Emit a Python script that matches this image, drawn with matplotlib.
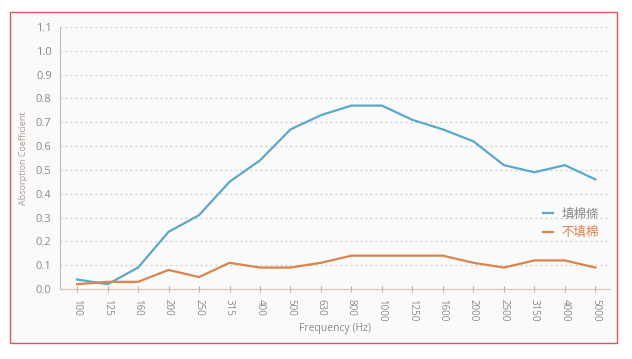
import matplotlib
matplotlib.use("Agg")
import matplotlib.pyplot as plt
from matplotlib.patches import Rectangle

freqs = ["100", "125", "160", "200", "250", "315", "400", "500", "630", "800",
         "1000", "1250", "1600", "2000", "2500", "3150", "4000", "5000"]
filled = [0.04, 0.02, 0.09, 0.24, 0.31, 0.45, 0.54, 0.67, 0.73, 0.77,
          0.77, 0.71, 0.67, 0.62, 0.52, 0.49, 0.52, 0.46]
unfilled = [0.02, 0.03, 0.03, 0.08, 0.05, 0.11, 0.09, 0.09, 0.11, 0.14,
            0.14, 0.14, 0.14, 0.11, 0.09, 0.12, 0.12, 0.09]
labels = ["填棉條", "不填棉"]
yticks = [i / 10 for i in range(12)]

plt.rcParams['font.family'] = ['Open Sans', 'Noto Sans CJK TC', 'DejaVu Sans']

blue = "#5ba8c9"
orange = "#d9834d"
grey = "#8a8a8a"

fig = plt.figure(figsize=(6.32, 3.59), dpi=100)
fig.patch.set_facecolor("white")
fig.add_artist(Rectangle((10 / 632, 1 - 343 / 359), 607 / 632, 331 / 359,
                         transform=fig.transFigure, facecolor="#fafafa",
                         edgecolor="#d9585c", linewidth=1.0, zorder=0))

ax = fig.add_axes([60 / 632, 1 - 289 / 359, 550 / 632, 262 / 359])
ax.set_facecolor("none")
x = list(range(len(freqs)))
ax.plot(x, filled, color=blue, lw=1.6, label=labels[0])
ax.plot(x, unfilled, color=orange, lw=1.6, label=labels[1])

ax.set_xlim(-0.56, 17.48)
ax.set_ylim(0, 1.1)
ax.set_xticks(x)
ax.set_xticklabels(freqs, rotation=-90, fontsize=7, color=grey)
ax.set_yticks(yticks)
ax.set_yticklabels([f"{v:.1f}" for v in yticks], fontsize=8, color=grey)
ax.grid(axis="y", linestyle=(0, (1.5, 2.5)), color="#cfc6c6", lw=0.9)
ax.tick_params(axis="x", direction="inout", length=5, color="#b8b0aa", pad=5)
ax.tick_params(axis="y", length=0, pad=6)
for s in ["top", "right"]:
    ax.spines[s].set_visible(False)
ax.spines["left"].set_color("#c4bcbc")
ax.spines["bottom"].set_color("#d4c4b8")

ax.set_xlabel("Frequency (Hz)", fontsize=7.5, color=grey, labelpad=1)
ax.set_ylabel("Absorption Coefficient", fontsize=6.5, color="#b09890", labelpad=6)

leg = ax.legend(loc="center right", bbox_to_anchor=(1.0, 0.25), frameon=False,
                fontsize=9, handlelength=0.8, handletextpad=0.7, labelspacing=0.45)
leg.get_texts()[0].set_color(grey)
leg.get_texts()[1].set_color(orange)

fig.savefig("out.png", dpi=100)
